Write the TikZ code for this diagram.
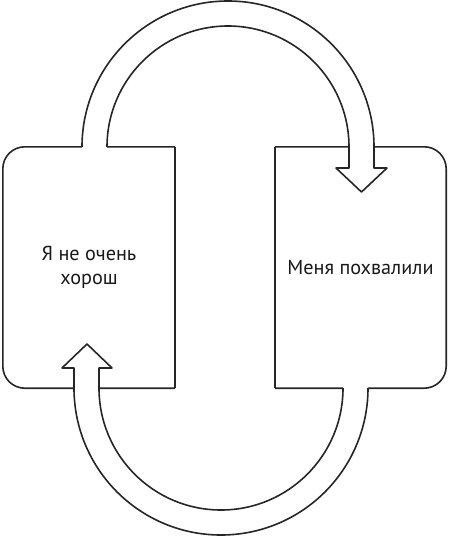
\documentclass[tikz,border=0pt]{standalone}
\usepackage{fontspec}
\setmainfont{PT Sans}
\begin{document}
\begin{tikzpicture}[x=1pt,y=-1pt,
  outline/.style={line width=1.6pt, draw=black!85, line join=round},
  boxnode/.style={minimum width=#1, minimum height=241pt, inner sep=0pt},
  lbl/.style={font=\fontsize{20.2}{24}\selectfont, align=center, text=black!90}]
\useasboundingbox (0,0) rectangle (450,536);
% boxes
\node[boxnode=172pt] (L) at (89,267.5) {};
\node[boxnode=171pt] (R) at (360.5,267.5) {};
\draw[outline, rounded corners=22pt] (L.north east) -- (L.north west) -- (L.south west) -- (L.south east);
\draw[outline] (L.north east) -- (L.south east);
\draw[outline, rounded corners=22pt] (R.north west) -- (R.north east) -- (R.south east) -- (R.south west);
\draw[outline] (R.north west) -- (R.south west);
% top arrow
\fill[white] (82,149) -- (82,147) arc[start angle=180,end angle=360,radius=146] -- (374,168) -- (387,168) -- (361.5,192) -- (336,168) -- (349,168) -- (349,147) arc[start angle=0,end angle=-180,radius=121] -- (107,149) -- cycle;
\draw[outline] (82,147) arc[start angle=180,end angle=360,radius=146] -- (374,168) -- (387,168) -- (361.5,192) -- (336,168) -- (349,168) -- (349,147) arc[start angle=0,end angle=-180,radius=121];
% bottom arrow
\fill[white] (368,386) -- (368,388) arc[start angle=0,end angle=180,radius=147] -- (74,368) -- (62,368) -- (87,344) -- (112,368) -- (99,368) -- (99,388) arc[start angle=180,end angle=0,radius=122] -- (343,386) -- cycle;
\draw[outline] (368,388) arc[start angle=0,end angle=180,radius=147] -- (74,368) -- (62,368) -- (87,344) -- (112,368) -- (99,368) -- (99,388) arc[start angle=180,end angle=0,radius=122];
% labels
\node[lbl] (t1) at (L.center) {Я не очень\\хорош};
\node[lbl] (t2) at (R.center) {Меня похвалили};
\end{tikzpicture}
\end{document}
